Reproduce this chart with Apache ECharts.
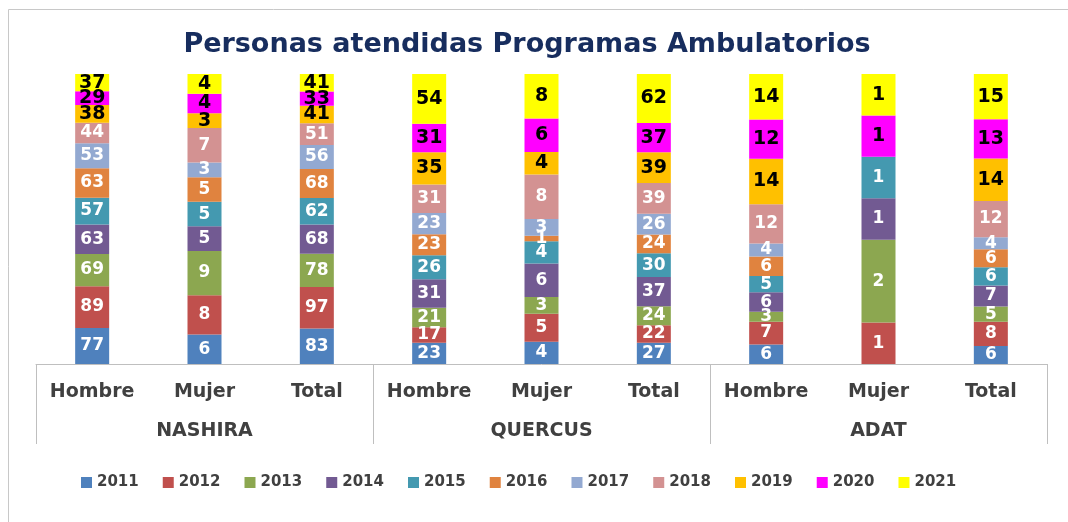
<!DOCTYPE html>
<html>
<head>
<meta charset="utf-8">
<script src="https://cdn.jsdelivr.net/npm/echarts@6/dist/echarts.min.js"></script>
<style>
html,body{margin:0;padding:0;background:#fff;}
#chart{width:1068px;height:522px;}
</style>
</head>
<body>
<div id="chart"></div>
<script>
// ---- Data ----
const categories = ['Hombre','Mujer','Total','Hombre','Mujer','Total','Hombre','Mujer','Total'];
const groups = ['NASHIRA','QUERCUS','ADAT'];
const years = ['2011','2012','2013','2014','2015','2016','2017','2018','2019','2020','2021'];
const y2011 = [77, 6, 83, 23, 4, 27, 6, null, 6];
const y2012 = [89, 8, 97, 17, 5, 22, 7, 1, 8];
const y2013 = [69, 9, 78, 21, 3, 24, 3, 2, 5];
const y2014 = [63, 5, 68, 31, 6, 37, 6, 1, 7];
const y2015 = [57, 5, 62, 26, 4, 30, 5, 1, 6];
const y2016 = [63, 5, 68, 23, 1, 24, 6, null, 6];
const y2017 = [53, 3, 56, 23, 3, 26, 4, null, 4];
const y2018 = [44, 7, 51, 31, 8, 39, 12, null, 12];
const y2019 = [38, 3, 41, 35, 4, 39, 14, null, 14];
const y2020 = [29, 4, 33, 31, 6, 37, 12, 1, 13];
const y2021 = [37, 4, 41, 54, 8, 62, 14, 1, 15];
const values = [y2011,y2012,y2013,y2014,y2015,y2016,y2017,y2018,y2019,y2020,y2021];

// ---- Style ----
const colors = ['#4F81BD','#C0504D','#8CA750','#725A92','#4499B0','#E0833F','#93A9D1','#D39292','#FFC000','#FF00FF','#FFFF00'];
const darkLabel = [false,false,false,false,false,false,false,false,true,true,true];

const totals = categories.map((c, i) => values.reduce((s, arr) => s + (arr[i] || 0), 0));

const series = years.map((yr, k) => ({
  name: yr,
  type: 'bar',
  stack: 'all',
  barWidth: 34,
  itemStyle: { color: colors[k] },
  label: {
    show: true,
    position: 'inside',
    fontFamily: 'DejaVu Sans',
    fontWeight: 'bold',
    fontSize: darkLabel[k] ? 19 : 17,
    color: darkLabel[k] ? '#000000' : '#FFFFFF',
    formatter: p => {
      const v = values[k][p.dataIndex];
      return v == null ? '' : String(v);
    }
  },
  data: values[k].map((v, i) => v == null ? null : v / totals[i] * 100)
}));

const chart = echarts.init(document.getElementById('chart'), null, { renderer: 'canvas' });
chart.setOption({
  animation: false,
  backgroundColor: '#FFFFFF',
  title: {
    text: 'Personas atendidas Programas Ambulatorios',
    left: 522,
    top: 26,
    textAlign: 'center',
    textStyle: { fontFamily: 'DejaVu Sans', fontWeight: 'bold', fontSize: 27, color: '#172D5E' }
  },
  legend: {
    data: years,
    left: 76,
    top: 470,
    itemWidth: 11,
    itemHeight: 11,
    itemGap: 24,
    icon: 'rect',
    textStyle: { fontFamily: 'DejaVu Sans', fontWeight: 'bold', fontSize: 15, color: '#404040' }
  },
  grid: { left: 36, right: 21, top: 74, bottom: 158, containLabel: false },
  xAxis: [
    {
      type: 'category',
      data: categories,
      position: 'bottom',
      axisLine: { show: true, lineStyle: { color: '#BFBFBF', width: 1 } },
      axisTick: { show: false },
      axisLabel: { interval: 0, margin: 19, fontFamily: 'DejaVu Sans', fontWeight: 'bold', fontSize: 19, color: '#404040' }
    },
    {
      type: 'category',
      data: groups,
      position: 'bottom',
      axisLine: { show: false },
      axisTick: { show: true, length: 80, interval: 0, lineStyle: { color: '#BFBFBF', width: 1 } },
      axisLabel: { interval: 0, margin: 58, fontFamily: 'DejaVu Sans', fontWeight: 'bold', fontSize: 19, color: '#404040' },
      splitLine: { show: false }
    }
  ],
  yAxis: { type: 'value', min: 0, max: 100, show: false, splitLine: { show: false } },
  graphic: [{
    type: 'rect',
    shape: { x: 8.5, y: 9.5, width: 2000, height: 2000 },
    style: { fill: 'none', stroke: '#C8C8C8', lineWidth: 1 },
    silent: true
  }],
  series: series
});
</script>
</body>
</html>
